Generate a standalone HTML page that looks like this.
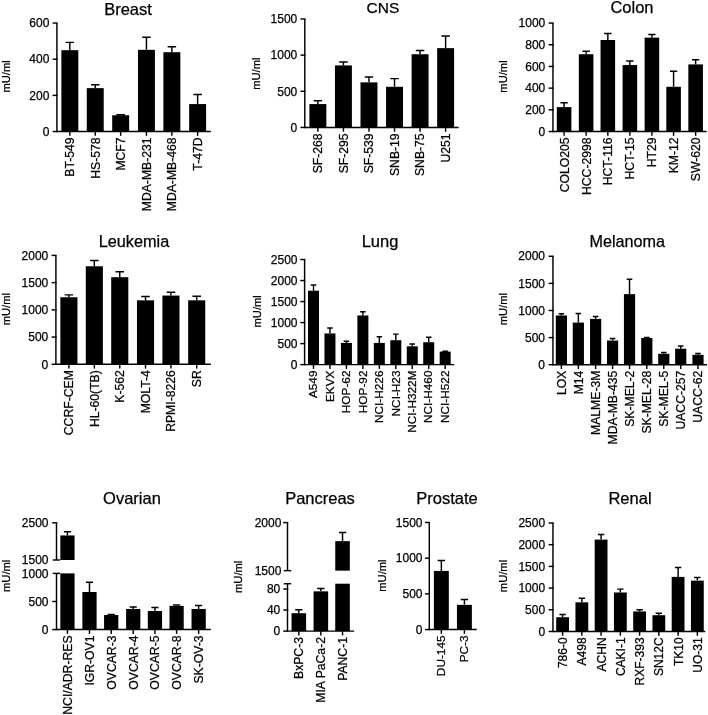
<!DOCTYPE html>
<html><head><meta charset="utf-8"><title>NCI-60 panel</title>
<style>
html,body{margin:0;padding:0;background:#fff}
svg{display:block;font-family:"Liberation Sans",Arial,sans-serif;fill:#000}
text{stroke:#000;stroke-width:0.25px}
.t{text-anchor:middle}
.yt{font-size:12px;text-anchor:end;dominant-baseline:central}
.yl{font-size:11.2px;text-anchor:middle}
.xl{text-anchor:end;dominant-baseline:central}
.l{stroke:#000;stroke-width:1.45;fill:none}
</style></head><body>
<svg width="708" height="715" viewBox="0 0 708 715">
<rect width="708" height="715" fill="#fff"/>
<g><text class="t" font-size="16.5" x="128" y="14.8">Breast</text><text class="yl" transform="translate(10.3,76.4) rotate(-90)">mU/ml</text><path class="l" d="M69.83 50.17V42.37M65.59 42.37H74.07"/><rect x="61.36" y="50.17" width="16.95" height="81.36"/><path class="l" d="M69.83 131.53v4.3"/><text class="xl" font-size="12.2" transform="translate(70.23,137.43) rotate(-90)">BT-549</text><path class="l" d="M95.25 88.14V84.75M91.02 84.75H99.49"/><rect x="86.78" y="88.14" width="16.95" height="43.39"/><path class="l" d="M95.25 131.53v4.3"/><text class="xl" font-size="12.2" transform="translate(95.65,137.43) rotate(-90)">HS-578</text><path class="l" d="M120.68 115.25V114.71M116.44 114.71H124.92"/><rect x="112.2" y="115.25" width="16.95" height="16.27"/><path class="l" d="M120.68 131.53v4.3"/><text class="xl" font-size="12.2" transform="translate(121.08,137.43) rotate(-90)">MCF7</text><path class="l" d="M146.44 49.83V37.29M142.2 37.29H150.68"/><rect x="137.97" y="49.83" width="16.95" height="81.69"/><path class="l" d="M146.44 131.53v4.3"/><text class="xl" font-size="12.2" transform="translate(146.84,137.43) rotate(-90)">MDA-MB-231</text><path class="l" d="M171.86 52.2V46.78M167.63 46.78H176.1"/><rect x="163.39" y="52.2" width="16.95" height="79.32"/><path class="l" d="M171.86 131.53v4.3"/><text class="xl" font-size="12.2" transform="translate(172.26,137.43) rotate(-90)">MDA-MB-468</text><path class="l" d="M197.63 104.07V94.58M193.39 94.58H201.86"/><rect x="189.15" y="104.07" width="16.95" height="27.46"/><path class="l" d="M197.63 131.53v4.3"/><text class="xl" font-size="12.2" transform="translate(198.03,137.43) rotate(-90)">T-47D</text><path class="l" d="M56.9 131.53V23.05"/><path class="l" d="M52.6 131.53H57.62"/><text class="yt" x="49.35" y="131.73">0</text><path class="l" d="M52.6 95.37H57.62"/><text class="yt" x="49.35" y="95.57">200</text><path class="l" d="M52.6 59.21H57.62"/><text class="yt" x="49.35" y="59.41">400</text><path class="l" d="M52.6 23.05H57.62"/><text class="yt" x="49.35" y="23.25">600</text><path class="l" d="M56.17 131.53H210.85"/></g>
<g><text class="t" font-size="15.5" x="382.9" y="12.6">CNS</text><text class="yl" transform="translate(259.7,73.7) rotate(-90)">mU/ml</text><path class="l" d="M317.87 104.07V100.68M313.64 100.68H322.11"/><rect x="309.4" y="104.07" width="16.95" height="23.39"/><path class="l" d="M317.87 127.46v4.3"/><text class="xl" font-size="12.2" transform="translate(318.27,133.36) rotate(-90)">SF-268</text><path class="l" d="M343.42 65.42V62.03M339.19 62.03H347.66"/><rect x="334.95" y="65.42" width="16.95" height="62.03"/><path class="l" d="M343.42 127.46v4.3"/><text class="xl" font-size="12.2" transform="translate(343.82,133.36) rotate(-90)">SF-295</text><path class="l" d="M368.97 82.37V76.95M364.74 76.95H373.21"/><rect x="360.5" y="82.37" width="16.95" height="45.08"/><path class="l" d="M368.97 127.46v4.3"/><text class="xl" font-size="12.2" transform="translate(369.37,133.36) rotate(-90)">SF-539</text><path class="l" d="M394.52 86.78V78.64M390.29 78.64H398.76"/><rect x="386.05" y="86.78" width="16.95" height="40.68"/><path class="l" d="M394.52 127.46v4.3"/><text class="xl" font-size="12.2" transform="translate(394.92,133.36) rotate(-90)">SNB-19</text><path class="l" d="M420.07 54.24V50.51M415.84 50.51H424.31"/><rect x="411.6" y="54.24" width="16.95" height="73.22"/><path class="l" d="M420.07 127.46v4.3"/><text class="xl" font-size="12.2" transform="translate(420.47,133.36) rotate(-90)">SNB-75</text><path class="l" d="M445.62 48.14V35.93M441.39 35.93H449.86"/><rect x="437.15" y="48.14" width="16.95" height="79.32"/><path class="l" d="M445.62 127.46v4.3"/><text class="xl" font-size="12.2" transform="translate(446.02,133.36) rotate(-90)">U251</text><path class="l" d="M304.8 127.46V18.98"/><path class="l" d="M300.5 127.46H305.53"/><text class="yt" x="297.3" y="127.66">0</text><path class="l" d="M300.5 91.3H305.53"/><text class="yt" x="297.3" y="91.5">500</text><path class="l" d="M300.5 55.14H305.53"/><text class="yt" x="297.3" y="55.34">1000</text><path class="l" d="M300.5 18.98H305.53"/><text class="yt" x="297.3" y="19.18">1500</text><path class="l" d="M304.07 127.46H458.64"/></g>
<g><text class="t" font-size="16.5" x="632" y="12.6">Colon</text><text class="yl" transform="translate(507.2,76.5) rotate(-90)">mU/ml</text><path class="l" d="M564.1 107.12V102.71M560.46 102.71H567.75"/><rect x="556.81" y="107.12" width="14.58" height="24.41"/><path class="l" d="M564.1 131.53v4.3"/><text class="xl" font-size="12.2" transform="translate(564.5,137.43) rotate(-90)">COLO205</text><path class="l" d="M586.14 54.24V51.19M582.49 51.19H589.78"/><rect x="578.85" y="54.24" width="14.58" height="77.29"/><path class="l" d="M586.14 131.53v4.3"/><text class="xl" font-size="12.2" transform="translate(586.54,137.43) rotate(-90)">HCC-2998</text><path class="l" d="M607.83 40V33.56M604.19 33.56H611.47"/><rect x="600.54" y="40" width="14.58" height="91.53"/><path class="l" d="M607.83 131.53v4.3"/><text class="xl" font-size="12.2" transform="translate(608.23,137.43) rotate(-90)">HCT-116</text><path class="l" d="M629.86 65.08V61.02M626.22 61.02H633.51"/><rect x="622.58" y="65.08" width="14.58" height="66.44"/><path class="l" d="M629.86 131.53v4.3"/><text class="xl" font-size="12.2" transform="translate(630.26,137.43) rotate(-90)">HCT-15</text><path class="l" d="M651.9 37.63V34.58M648.25 34.58H655.54"/><rect x="644.61" y="37.63" width="14.58" height="93.9"/><path class="l" d="M651.9 131.53v4.3"/><text class="xl" font-size="12.2" transform="translate(652.3,137.43) rotate(-90)">HT29</text><path class="l" d="M673.59 86.78V71.19M669.95 71.19H677.24"/><rect x="666.31" y="86.78" width="14.58" height="44.75"/><path class="l" d="M673.59 131.53v4.3"/><text class="xl" font-size="12.2" transform="translate(673.99,137.43) rotate(-90)">KM-12</text><path class="l" d="M695.63 64.41V59.66M691.98 59.66H699.27"/><rect x="688.34" y="64.41" width="14.58" height="67.12"/><path class="l" d="M695.63 131.53v4.3"/><text class="xl" font-size="12.2" transform="translate(696.03,137.43) rotate(-90)">SW-620</text><path class="l" d="M552.95 131.53V23.05"/><path class="l" d="M548.65 131.53H553.68"/><text class="yt" x="545.25" y="131.73">0</text><path class="l" d="M548.65 109.83H553.68"/><text class="yt" x="545.25" y="110.03">200</text><path class="l" d="M548.65 88.14H553.68"/><text class="yt" x="545.25" y="88.34">400</text><path class="l" d="M548.65 66.44H553.68"/><text class="yt" x="545.25" y="66.64">600</text><path class="l" d="M548.65 44.75H553.68"/><text class="yt" x="545.25" y="44.95">800</text><path class="l" d="M548.65 23.05H553.68"/><text class="yt" x="545.25" y="23.25">1000</text><path class="l" d="M552.23 131.53H706.6"/></g>
<g><text class="t" font-size="16.3" x="134" y="246.6">Leukemia</text><text class="yl" transform="translate(10.3,309.2) rotate(-90)">mU/ml</text><path class="l" d="M68.91 297.26V294.88M64.63 294.88H73.18"/><rect x="60.36" y="297.26" width="17.1" height="67.04"/><path class="l" d="M68.91 364.3v4.3"/><text class="xl" font-size="12.2" transform="translate(69.31,370.2) rotate(-90)">CCRF-CEM</text><path class="l" d="M94.33 266.29V260.5M90.05 260.5H98.6"/><rect x="85.78" y="266.29" width="17.1" height="98.01"/><path class="l" d="M94.33 364.3v4.3"/><text class="xl" font-size="12.2" transform="translate(94.73,370.2) rotate(-90)">HL-60(TB)</text><path class="l" d="M119.75 277.18V271.74M115.48 271.74H124.03"/><rect x="111.2" y="277.18" width="17.1" height="87.12"/><path class="l" d="M119.75 364.3v4.3"/><text class="xl" font-size="12.2" transform="translate(120.15,370.2) rotate(-90)">K-562</text><path class="l" d="M145.52 300.32V296.58M141.24 296.58H149.79"/><rect x="136.97" y="300.32" width="17.1" height="63.98"/><path class="l" d="M145.52 364.3v4.3"/><text class="xl" font-size="12.2" transform="translate(145.92,370.2) rotate(-90)">MOLT-4</text><path class="l" d="M170.94 295.56V292.15M166.66 292.15H175.21"/><rect x="162.39" y="295.56" width="17.1" height="68.74"/><path class="l" d="M170.94 364.3v4.3"/><text class="xl" font-size="12.2" transform="translate(171.34,370.2) rotate(-90)">RPMI-8226</text><path class="l" d="M196.7 300.32V296.24M192.43 296.24H200.98"/><rect x="188.15" y="300.32" width="17.1" height="63.98"/><path class="l" d="M196.7 364.3v4.3"/><text class="xl" font-size="12.2" transform="translate(197.1,370.2) rotate(-90)">SR</text><path class="l" d="M55.9 364.3V255.4"/><path class="l" d="M51.6 364.3H56.62"/><text class="yt" x="48.3" y="364.5">0</text><path class="l" d="M51.6 337.07H56.62"/><text class="yt" x="48.3" y="337.27">500</text><path class="l" d="M51.6 309.85H56.62"/><text class="yt" x="48.3" y="310.05">1000</text><path class="l" d="M51.6 282.62H56.62"/><text class="yt" x="48.3" y="282.82">1500</text><path class="l" d="M51.6 255.4H56.62"/><text class="yt" x="48.3" y="255.6">2000</text><path class="l" d="M55.17 364.3H210.85"/></g>
<g><text class="t" font-size="16.5" x="380" y="246.8">Lung</text><text class="yl" transform="translate(260.7,311.3) rotate(-90)">mU/ml</text><path class="l" d="M313.5 290.72V284.96M310.75 284.96H316.25"/><rect x="308" y="290.72" width="11" height="73.9"/><path class="l" d="M313.5 364.62v4.3"/><text class="xl" font-size="11.8" transform="translate(313.2,370.52) rotate(-90)">A549</text><path class="l" d="M329.96 333.44V328.01M327.21 328.01H332.71"/><rect x="324.46" y="333.44" width="11" height="31.19"/><path class="l" d="M329.96 364.62v4.3"/><text class="xl" font-size="11.8" transform="translate(329.66,370.52) rotate(-90)">EKVX</text><path class="l" d="M346.42 342.93V341.23M343.67 341.23H349.17"/><rect x="340.92" y="342.93" width="11" height="21.69"/><path class="l" d="M346.42 364.62v4.3"/><text class="xl" font-size="11.8" transform="translate(346.12,370.52) rotate(-90)">HOP-62</text><path class="l" d="M362.88 315.47V311.74M360.13 311.74H365.63"/><rect x="357.38" y="315.47" width="11" height="49.15"/><path class="l" d="M362.88 364.62v4.3"/><text class="xl" font-size="11.8" transform="translate(362.58,370.52) rotate(-90)">HOP-92</text><path class="l" d="M379.34 342.93V336.83M376.59 336.83H382.09"/><rect x="373.84" y="342.93" width="11" height="21.69"/><path class="l" d="M379.34 364.62v4.3"/><text class="xl" font-size="11.8" transform="translate(379.04,370.52) rotate(-90)">NCI-H226</text><path class="l" d="M395.8 340.22V334.11M393.05 334.11H398.55"/><rect x="390.3" y="340.22" width="11" height="24.41"/><path class="l" d="M395.8 364.62v4.3"/><text class="xl" font-size="11.8" transform="translate(395.5,370.52) rotate(-90)">NCI-H23</text><path class="l" d="M412.26 346.32V343.94M409.51 343.94H415.01"/><rect x="406.76" y="346.32" width="11" height="18.31"/><path class="l" d="M412.26 364.62v4.3"/><text class="xl" font-size="11.8" transform="translate(411.96,370.52) rotate(-90)">NCI-H322M</text><path class="l" d="M428.72 342.25V337.16M425.97 337.16H431.47"/><rect x="423.22" y="342.25" width="11" height="22.37"/><path class="l" d="M428.72 364.62v4.3"/><text class="xl" font-size="11.8" transform="translate(428.42,370.52) rotate(-90)">NCI-H460</text><path class="l" d="M445.18 351.59V351.26M442.43 351.26H447.93"/><rect x="439.68" y="351.59" width="11" height="13.03"/><path class="l" d="M445.18 364.62v4.3"/><text class="xl" font-size="11.8" transform="translate(444.88,370.52) rotate(-90)">NCI-H522</text><path class="l" d="M304.6 364.62V259.54"/><path class="l" d="M300.3 364.62H305.33"/><text class="yt" x="297.5" y="364.82">0</text><path class="l" d="M300.3 343.61H305.33"/><text class="yt" x="297.5" y="343.81">500</text><path class="l" d="M300.3 322.59H305.33"/><text class="yt" x="297.5" y="322.79">1000</text><path class="l" d="M300.3 301.57H305.33"/><text class="yt" x="297.5" y="301.77">1500</text><path class="l" d="M300.3 280.55H305.33"/><text class="yt" x="297.5" y="280.75">2000</text><path class="l" d="M300.3 259.54H305.33"/><text class="yt" x="297.5" y="259.74">2500</text><path class="l" d="M303.88 364.62H454.24"/></g>
<g><text class="t" font-size="16.2" x="627.3" y="246.8">Melanoma</text><text class="yl" transform="translate(507.3,309.2) rotate(-90)">mU/ml</text><path class="l" d="M561.39 315.47V313.78M558.59 313.78H564.19"/><rect x="555.8" y="315.47" width="11.19" height="49.25"/><path class="l" d="M561.39 364.72v4.3"/><text class="xl" font-size="12.2" transform="translate(561.79,370.62) rotate(-90)">LOX</text><path class="l" d="M578.34 322.59V313.44M575.54 313.44H581.14"/><rect x="572.75" y="322.59" width="11.19" height="42.13"/><path class="l" d="M578.34 364.72v4.3"/><text class="xl" font-size="12.2" transform="translate(578.74,370.62) rotate(-90)">M14</text><path class="l" d="M595.63 318.86V316.49M592.83 316.49H598.42"/><rect x="590.03" y="318.86" width="11.19" height="45.86"/><path class="l" d="M595.63 364.72v4.3"/><text class="xl" font-size="12.2" transform="translate(596.03,370.62) rotate(-90)">MALME-3M</text><path class="l" d="M612.58 340.56V338.53M609.78 338.53H615.37"/><rect x="606.98" y="340.56" width="11.19" height="24.16"/><path class="l" d="M612.58 364.72v4.3"/><text class="xl" font-size="12.2" transform="translate(612.98,370.62) rotate(-90)">MDA-MB-435</text><path class="l" d="M629.53 294.12V279.2M626.73 279.2H632.32"/><rect x="623.93" y="294.12" width="11.19" height="70.6"/><path class="l" d="M629.53 364.72v4.3"/><text class="xl" font-size="12.2" transform="translate(629.93,370.62) rotate(-90)">SK-MEL-2</text><path class="l" d="M646.81 337.98V337.39M644.02 337.39H649.61"/><rect x="641.22" y="337.98" width="11.19" height="26.74"/><path class="l" d="M646.81 364.72v4.3"/><text class="xl" font-size="12.2" transform="translate(647.21,370.62) rotate(-90)">SK-MEL-28</text><path class="l" d="M663.76 353.78V352.41M660.97 352.41H666.56"/><rect x="658.17" y="353.78" width="11.19" height="10.94"/><path class="l" d="M663.76 364.72v4.3"/><text class="xl" font-size="12.2" transform="translate(664.16,370.62) rotate(-90)">SK-MEL-5</text><path class="l" d="M680.71 348.69V345.97M677.92 345.97H683.51"/><rect x="675.12" y="348.69" width="11.19" height="16.03"/><path class="l" d="M680.71 364.72v4.3"/><text class="xl" font-size="12.2" transform="translate(681.11,370.62) rotate(-90)">UACC-257</text><path class="l" d="M698 354.8V353.43M695.2 353.43H700.8"/><rect x="692.41" y="354.8" width="11.19" height="9.93"/><path class="l" d="M698 364.72v4.3"/><text class="xl" font-size="12.2" transform="translate(698.4,370.62) rotate(-90)">UACC-62</text><path class="l" d="M552.95 364.72V256.25"/><path class="l" d="M548.65 364.72H553.68"/><text class="yt" x="545" y="364.92">0</text><path class="l" d="M548.65 337.6H553.68"/><text class="yt" x="545" y="337.8">500</text><path class="l" d="M548.65 310.48H553.68"/><text class="yt" x="545" y="310.68">1000</text><path class="l" d="M548.65 283.37H553.68"/><text class="yt" x="545" y="283.57">1500</text><path class="l" d="M548.65 256.25H553.68"/><text class="yt" x="545" y="256.45">2000</text><path class="l" d="M552.23 364.72H706.98"/></g>
<g><text class="t" font-size="16.5" x="132" y="503.6">Ovarian</text><text class="yl" transform="translate(10.3,575.8) rotate(-90)">mU/ml</text><path class="l" d="M67.46 535.45V531.69M63.9 531.69H71.02"/><rect x="60.34" y="573.4" width="14.24" height="56.18"/><rect x="60.34" y="535.45" width="14.24" height="24.55"/><path class="l" d="M67.46 629.58v4.3"/><text class="xl" font-size="12.2" transform="translate(67.86,635.48) rotate(-90)">NCI/ADR-RES</text><path class="l" d="M89.49 591.99V582.22M85.93 582.22H93.05"/><rect x="82.37" y="591.99" width="14.24" height="37.58"/><path class="l" d="M89.49 629.58v4.3"/><text class="xl" font-size="12.2" transform="translate(89.89,635.48) rotate(-90)">IGR-OV1</text><path class="l" d="M111.19 615.03V614.35M107.63 614.35H114.75"/><rect x="104.07" y="615.03" width="14.24" height="14.55"/><path class="l" d="M111.19 629.58v4.3"/><text class="xl" font-size="12.2" transform="translate(111.59,635.48) rotate(-90)">OVCAR-3</text><path class="l" d="M133.22 608.96V607.05M129.66 607.05H136.78"/><rect x="126.1" y="608.96" width="14.24" height="20.62"/><path class="l" d="M133.22 629.58v4.3"/><text class="xl" font-size="12.2" transform="translate(133.62,635.48) rotate(-90)">OVCAR-4</text><path class="l" d="M154.92 610.98V607.56M151.36 607.56H158.47"/><rect x="147.8" y="610.98" width="14.24" height="18.59"/><path class="l" d="M154.92 629.58v4.3"/><text class="xl" font-size="12.2" transform="translate(155.32,635.48) rotate(-90)">OVCAR-5</text><path class="l" d="M176.61 605.87V605.03M173.05 605.03H180.17"/><rect x="169.49" y="605.87" width="14.24" height="23.71"/><path class="l" d="M176.61 629.58v4.3"/><text class="xl" font-size="12.2" transform="translate(177.01,635.48) rotate(-90)">OVCAR-8</text><path class="l" d="M198.64 608.96V605.53M195.08 605.53H202.2"/><rect x="191.53" y="608.96" width="14.24" height="20.62"/><path class="l" d="M198.64 629.58v4.3"/><text class="xl" font-size="12.2" transform="translate(199.04,635.48) rotate(-90)">SK-OV-3</text><path class="l" d="M56.5 629.58V573.4"/><path class="l" d="M52.2 629.58H57.23"/><text class="yt" x="48.5" y="629.78">0</text><path class="l" d="M52.2 601.49H57.23"/><text class="yt" x="48.5" y="601.69">500</text><path class="l" d="M52.8 573.4H60.2"/><text class="yt" x="48.5" y="573.6">1000</text><path class="l" d="M56.5 560V522.8"/><path class="l" d="M52.8 560H60.2"/><text class="yt" x="48.5" y="560.2">1500</text><path class="l" d="M52.2 522.8H57.23"/><text class="yt" x="48.5" y="523">2500</text><path class="l" d="M55.77 629.58H210.85"/></g>
<g><text class="t" font-size="16.5" x="320" y="503.6">Pancreas</text><text class="yl" transform="translate(241.8,576.8) rotate(-90)">mU/ml</text><path class="l" d="M298.81 613.2V609.72M295.17 609.72H302.46"/><rect x="291.53" y="613.2" width="14.58" height="17.9"/><path class="l" d="M298.81 631.1v4.3"/><text class="xl" font-size="12.2" transform="translate(299.21,637) rotate(-90)">BxPC-3</text><path class="l" d="M320.85 591.35V588.45M317.2 588.45H324.49"/><rect x="313.56" y="591.35" width="14.58" height="39.75"/><path class="l" d="M320.85 631.1v4.3"/><text class="xl" font-size="12.2" transform="translate(321.25,637) rotate(-90)">MIA PaCa-2</text><path class="l" d="M342.54 541.15V532.59M338.9 532.59H346.19"/><rect x="335.25" y="583.7" width="14.58" height="47.4"/><rect x="335.25" y="541.15" width="14.58" height="29.5"/><path class="l" d="M342.54 631.1v4.3"/><text class="xl" font-size="12.2" transform="translate(342.94,637) rotate(-90)">PANC-1</text><path class="l" d="M287.5 631.1V583.7"/><path class="l" d="M283.2 631.1H288.23"/><text class="yt" x="280.25" y="631.3">0</text><path class="l" d="M283.2 610.04H288.23"/><text class="yt" x="280.25" y="610.24">40</text><path class="l" d="M283.2 588.98H288.23"/><text class="yt" x="280.25" y="589.18">80</text><path class="l" d="M283.8 583.7H291.2"/><path class="l" d="M287.5 570.65V522.6"/><path class="l" d="M283.8 570.65H291.2"/><text class="yt" x="281.4" y="570.85">1500</text><path class="l" d="M283.2 522.6H288.23"/><text class="yt" x="281.4" y="522.8">2000</text><path class="l" d="M286.77 631.1H354.2"/></g>
<g><text class="t" font-size="16.5" x="447" y="503.6">Prostate</text><text class="yl" transform="translate(385.8,575.6) rotate(-90)">mU/ml</text><path class="l" d="M441.36 570.93V560.42M437.63 560.42H445.08"/><rect x="433.9" y="570.93" width="14.92" height="58.64"/><path class="l" d="M441.36 629.58v4.3"/><text class="xl" font-size="11.8" transform="translate(441.36,635.48) rotate(-90)">DU-145</text><path class="l" d="M464.41 604.87V599.58M460.68 599.58H468.14"/><rect x="456.95" y="604.87" width="14.92" height="24.71"/><path class="l" d="M464.41 629.58v4.3"/><text class="xl" font-size="11.8" transform="translate(464.41,635.48) rotate(-90)">PC-3</text><path class="l" d="M429.3 629.58V522.46"/><path class="l" d="M425 629.58H430.03"/><text class="yt" x="422.5" y="629.78">0</text><path class="l" d="M425 593.87H430.03"/><text class="yt" x="422.5" y="594.07">500</text><path class="l" d="M425 558.16H430.03"/><text class="yt" x="422.5" y="558.36">1000</text><path class="l" d="M425 522.46H430.03"/><text class="yt" x="422.5" y="522.66">1500</text><path class="l" d="M428.57 629.58H476.7"/></g>
<g><text class="t" font-size="16.5" x="630" y="503.6">Renal</text><text class="yl" transform="translate(507.2,576) rotate(-90)">mU/ml</text><path class="l" d="M562.6 617.23V614.52M559.4 614.52H565.8"/><rect x="556.2" y="617.23" width="12.8" height="14.24"/><path class="l" d="M562.6 631.47v4.3"/><text class="xl" font-size="12.0" transform="translate(563,637.37) rotate(-90)">786-0</text><path class="l" d="M581.85 602.32V598.25M578.65 598.25H585.05"/><rect x="575.45" y="602.32" width="12.8" height="29.15"/><path class="l" d="M581.85 631.47v4.3"/><text class="xl" font-size="12.0" transform="translate(582.25,637.37) rotate(-90)">A498</text><path class="l" d="M601.1 539.61V534.52M597.9 534.52H604.3"/><rect x="594.7" y="539.61" width="12.8" height="91.86"/><path class="l" d="M601.1 631.47v4.3"/><text class="xl" font-size="12.0" transform="translate(601.5,637.37) rotate(-90)">ACHN</text><path class="l" d="M620.35 592.49V589.1M617.15 589.1H623.55"/><rect x="613.95" y="592.49" width="12.8" height="38.98"/><path class="l" d="M620.35 631.47v4.3"/><text class="xl" font-size="12.0" transform="translate(620.75,637.37) rotate(-90)">CAKI-1</text><path class="l" d="M639.6 611.47V609.78M636.4 609.78H642.8"/><rect x="633.2" y="611.47" width="12.8" height="20"/><path class="l" d="M639.6 631.47v4.3"/><text class="xl" font-size="12.0" transform="translate(640,637.37) rotate(-90)">RXF-393</text><path class="l" d="M658.85 615.2V613.17M655.65 613.17H662.05"/><rect x="652.45" y="615.2" width="12.8" height="16.27"/><path class="l" d="M658.85 631.47v4.3"/><text class="xl" font-size="12.0" transform="translate(659.25,637.37) rotate(-90)">SN12C</text><path class="l" d="M678.1 576.89V567.4M674.9 567.4H681.3"/><rect x="671.7" y="576.89" width="12.8" height="54.58"/><path class="l" d="M678.1 631.47v4.3"/><text class="xl" font-size="12.0" transform="translate(678.5,637.37) rotate(-90)">TK10</text><path class="l" d="M697.35 580.62V577.57M694.15 577.57H700.55"/><rect x="690.95" y="580.62" width="12.8" height="50.85"/><path class="l" d="M697.35 631.47v4.3"/><text class="xl" font-size="12.0" transform="translate(697.75,637.37) rotate(-90)">UO-31</text><path class="l" d="M552.95 631.47V523"/><path class="l" d="M548.65 631.47H553.68"/><text class="yt" x="545.1" y="631.67">0</text><path class="l" d="M548.65 609.78H553.68"/><text class="yt" x="545.1" y="609.98">500</text><path class="l" d="M548.65 588.08H553.68"/><text class="yt" x="545.1" y="588.28">1000</text><path class="l" d="M548.65 566.39H553.68"/><text class="yt" x="545.1" y="566.59">1500</text><path class="l" d="M548.65 544.69H553.68"/><text class="yt" x="545.1" y="544.89">2000</text><path class="l" d="M548.65 523H553.68"/><text class="yt" x="545.1" y="523.2">2500</text><path class="l" d="M552.23 631.47H705.29"/></g>
</svg>
</body></html>
